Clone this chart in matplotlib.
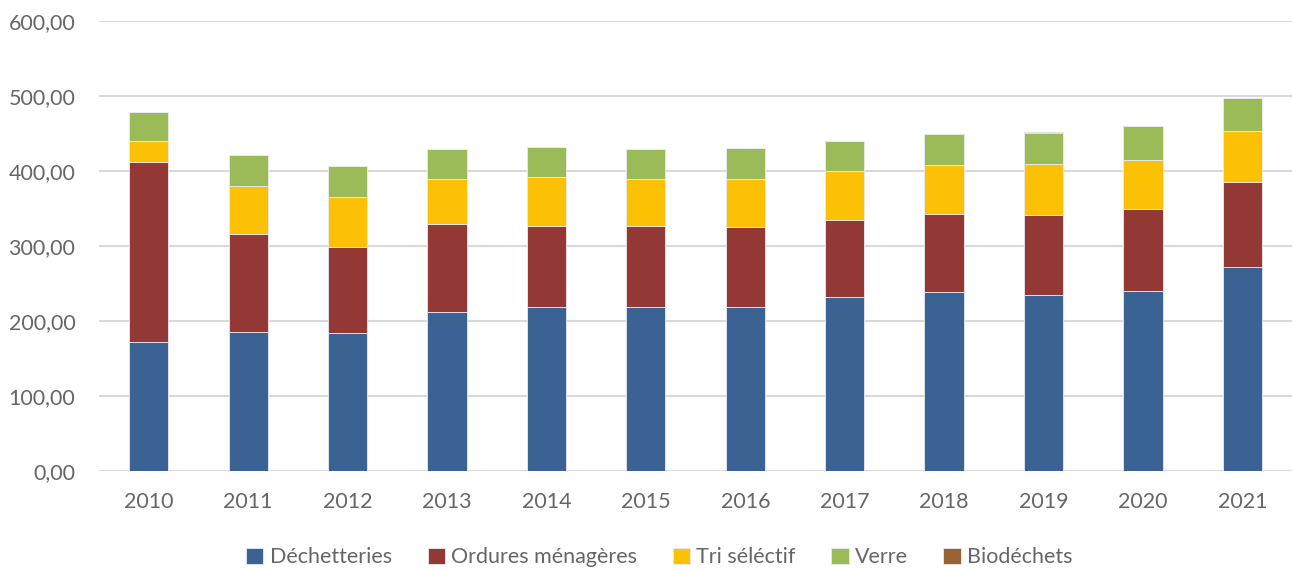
import matplotlib.pyplot as plt
import numpy as np
from matplotlib.ticker import FuncFormatter

annees = ["2010", "2011", "2012", "2013", "2014", "2015",
          "2016", "2017", "2018", "2019", "2020", "2021"]
dechetteries = [171.4, 184.8, 183.4, 211.5, 218.2, 218.2, 218.2, 231.5, 238.6, 234.2, 239.5, 272.4]
ordures = [241.2, 130.8, 115.3, 117.5, 108.5, 108.1, 107.6, 103.6, 104.1, 107.6, 110.3, 113.4]
tri = [27.6, 64.1, 66.3, 60.5, 65.0, 63.2, 63.7, 65.0, 65.0, 67.7, 65.0, 67.7]
verre = [38.3, 41.8, 41.8, 40.0, 40.5, 40.0, 40.9, 39.7, 41.4, 41.8, 45.4, 43.7]
biodechets = [0, 0, 0, 0, 0, 0, 0, 0, 0, 0.9, 0, 0.8]

series = [
    ("Déchetteries", dechetteries, "#3A6394"),
    ("Ordures ménagères", ordures, "#943835"),
    ("Tri séléctif", tri, "#FCC005"),
    ("Verre", verre, "#9BBB59"),
    ("Biodéchets", biodechets, "#9A6331"),
]

plt.rcParams["font.family"] = ["Lato", "DejaVu Sans"]
gris = "#666666"

fig = plt.figure(figsize=(12.93, 5.70), dpi=100)
ax = fig.add_axes([0.0766, 0.1742, 0.9227, 0.7888])

x = np.arange(len(annees))
bas = np.zeros(len(annees))
for nom, vals, couleur in series:
    vals = np.array(vals)
    ax.bar(x, vals, 0.395, bottom=bas, color=couleur, label=nom,
           edgecolor="#E8ECF2", linewidth=0.6, zorder=3)
    bas += vals

ax.set_xlim(-0.5, len(annees) - 0.5)
ax.set_ylim(0, 600)
ax.set_yticks(np.arange(0, 601, 100))
ax.yaxis.set_major_formatter(FuncFormatter(lambda v, p: f"{v:.2f}".replace(".", ",")))
ax.set_xticks(x)
ax.set_xticklabels(annees)
ax.grid(axis="y", color="#D9D9D9", linewidth=1.5, zorder=0)
for s in ax.spines.values():
    s.set_visible(False)
ax.tick_params(length=0, labelsize=15.5, colors=gris)
ax.tick_params(axis="x", pad=15)
ax.tick_params(axis="y", pad=17)

fig.legend(loc="center", bbox_to_anchor=(0.51, 0.022), ncol=5, frameon=False,
           fontsize=15.5, labelcolor=gris, handlelength=0.8, handleheight=0.8,
           handletextpad=0.3, columnspacing=1.65)

fig.savefig("out.png", dpi=100)
